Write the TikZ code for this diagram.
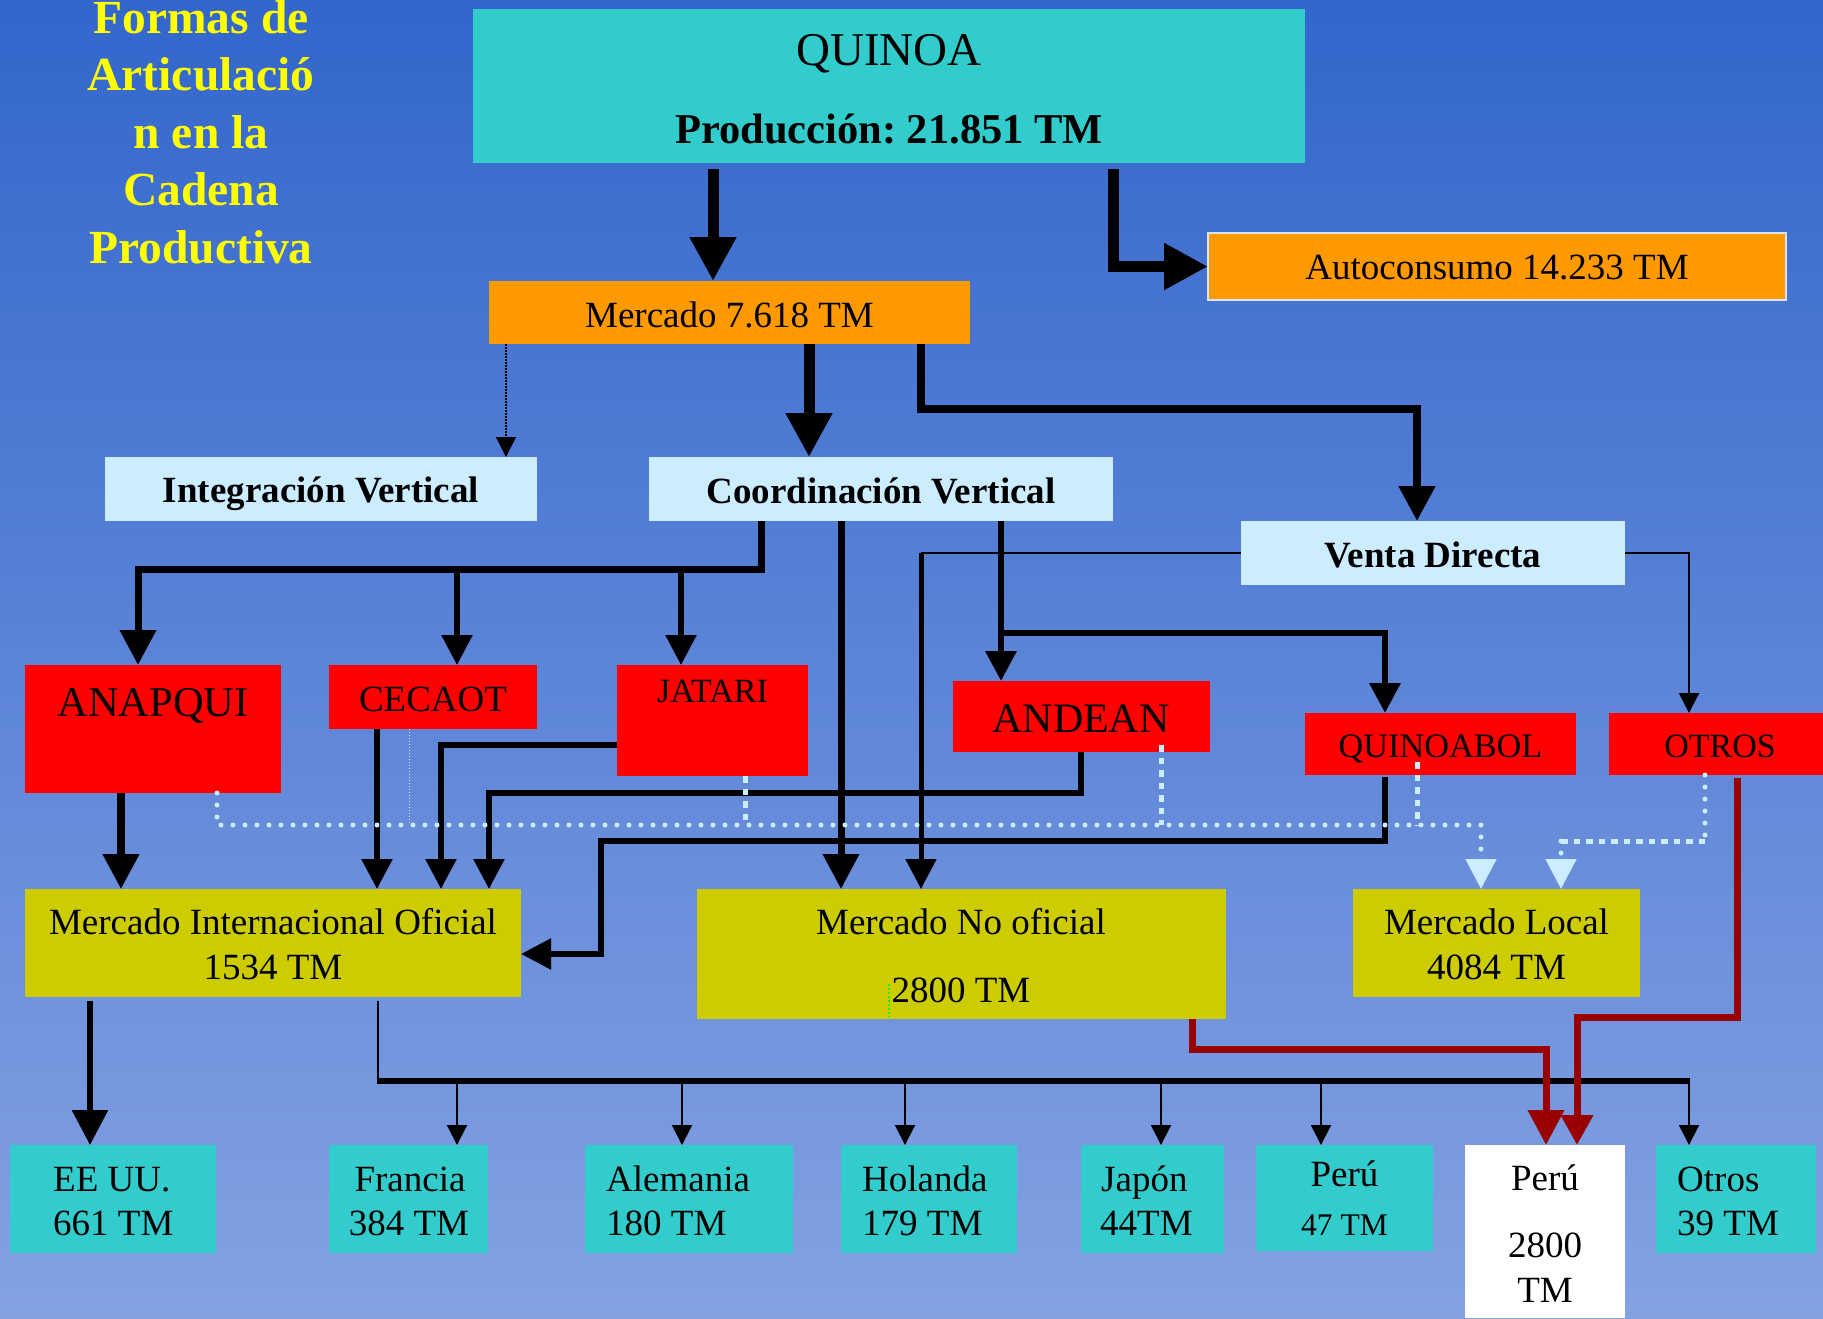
\documentclass[tikz,border=0pt]{standalone}
\usepackage{fontspec}
\setmainfont{Liberation Serif}
\usetikzlibrary{arrows.meta}
\frenchspacing
\definecolor{bgtop}{RGB}{51,102,204}
\definecolor{bgbot}{RGB}{132,162,226}
\definecolor{cteal}{RGB}{51,204,204}
\definecolor{corange}{RGB}{255,153,0}
\definecolor{clight}{RGB}{204,236,255}
\definecolor{cred}{RGB}{255,0,0}
\definecolor{colive}{RGB}{204,204,0}
\definecolor{cdred}{RGB}{153,0,0}
\definecolor{cyell}{RGB}{255,255,0}
\definecolor{cgreen}{RGB}{0,255,0}
\definecolor{cedge}{RGB}{215,228,250}
\begin{document}
\frenchspacing
\begin{tikzpicture}[x=1pt,y=-1pt,
  box/.style={inner sep=0pt, outer sep=0pt, anchor=north west, draw=none},
  lbl/.style={inner sep=0pt, anchor=base, font=\fontsize{37}{44}\selectfont},
  lbll/.style={inner sep=0pt, anchor=base west, font=\fontsize{37}{44}\selectfont},
  blbl/.style={inner sep=0pt, anchor=base, font=\fontsize{37}{44}\selectfont\bfseries},
  ttl/.style={inner sep=0pt, anchor=base, text=cyell, font=\fontsize{47.5}{56}\selectfont\bfseries},
  tipXL/.style={-{Triangle[width=44pt,length=44pt]}},
  tipL/.style={-{Triangle[width=35pt,length=35pt]}},
  tipM/.style={-{Triangle[width=30pt,length=30pt]}},
  tipS/.style={-{Triangle[width=20pt,length=20pt]}},
  dotrnd/.style={draw=clight, line width=5pt, line cap=round, dash pattern=on 0pt off 12pt},
  dashsq/.style={draw=clight, line width=5pt, dash pattern=on 6.5pt off 6pt},
  redln/.style={draw=cdred, line width=7pt},
]
\useasboundingbox (0,0) rectangle (1823,1318);
\shade[top color=bgtop, bottom color=bgbot] (0,0) rectangle (1823,1318);

% title
\foreach \t/\yy [count=\i] in {Formas de/33, Articulació/90, n en la/148, Cadena/205, Productiva/263}
  \node[ttl] (title\i) at (201,\yy) {\t};

% boxes
\node[box, fill=cteal, minimum width=832pt, minimum height=154pt] (quinoa) at (473,9) {};
\node[box, fill=corange, minimum width=481pt, minimum height=63pt] (mercado) at (489,281) {};
\node[box, fill=corange, draw=cedge, line width=2pt, minimum width=578pt, minimum height=67pt] (auto) at (1208,233) {};
\node[box, fill=clight, minimum width=432pt, minimum height=64pt] (integ) at (105,457) {};
\node[box, fill=clight, minimum width=464pt, minimum height=64pt] (coord) at (649,457) {};
\node[box, fill=clight, minimum width=384pt, minimum height=64pt] (venta) at (1241,521) {};
\node[box, fill=cred, minimum width=256pt, minimum height=128pt] (anapqui) at (25,665) {};
\node[box, fill=cred, minimum width=208pt, minimum height=64pt] (cecaot) at (329,665) {};
\node[box, fill=cred, minimum width=191pt, minimum height=111pt] (jatari) at (617,665) {};
\node[box, fill=cred, minimum width=257pt, minimum height=71pt] (andean) at (953,681) {};
\node[box, fill=cred, minimum width=271pt, minimum height=62pt] (quinoabol) at (1305,713) {};
\node[box, fill=cred, minimum width=214pt, minimum height=62pt] (otros) at (1609,713) {};
\node[box, fill=colive, minimum width=496pt, minimum height=108pt] (mio) at (25,889) {};
\node[box, fill=colive, minimum width=529pt, minimum height=130pt] (mno) at (697,889) {};
\node[box, fill=colive, minimum width=287pt, minimum height=108pt] (mlocal) at (1353,889) {};
\node[box, fill=cteal, minimum width=206pt, minimum height=108pt] (eeuu) at (10,1145) {};
\node[box, fill=cteal, minimum width=159pt, minimum height=108pt] (francia) at (329,1145) {};
\node[box, fill=cteal, minimum width=208pt, minimum height=108pt] (alemania) at (585,1145) {};
\node[box, fill=cteal, minimum width=176pt, minimum height=108pt] (holanda) at (841,1145) {};
\node[box, fill=cteal, minimum width=143pt, minimum height=108pt] (japon) at (1081,1145) {};
\node[box, fill=cteal, minimum width=177pt, minimum height=106pt] (perut) at (1256,1145) {};
\node[box, fill=white, minimum width=160pt, minimum height=173pt] (peruw) at (1465,1145) {};
\node[box, fill=cteal, minimum width=160pt, minimum height=108pt] (otrosb) at (1656,1145) {};

% texts
\node[lbl, font=\fontsize{47}{56}\selectfont] (tquinoa) at (889,65) {QUINOA};
\node[blbl, font=\fontsize{42.5}{50}\selectfont\bfseries] (tprod) at (889,143) {Producción: 21.851 TM};
\node[lbl] (tmerc) at (729.5,327) {Mercado 7.618 TM};
\node[lbl] (tauto) at (1497,279) {Autoconsumo 14.233 TM};
\node[blbl] (tinteg) at (321,502) {Integración Vertical};
\node[blbl] (tcoord) at (881,503) {Coordinación Vertical};
\node[blbl] (tventa) at (1433,567) {Venta Directa};
\node[lbl, font=\fontsize{42.5}{50}\selectfont] (tanap) at (153,716) {ANAPQUI};
\node[lbl] (tcec) at (433,711) {CECAOT};
\node[lbl, font=\fontsize{34}{40}\selectfont] (tjat) at (712.5,702) {JATARI};
\node[lbl, font=\fontsize{42}{50}\selectfont] (tand) at (1081,732) {ANDEAN};
\node[lbl, font=\fontsize{34.3}{40}\selectfont] (tqbol) at (1440.5,757) {QUINOABOL};
\node[lbl, font=\fontsize{34}{40}\selectfont] (totros) at (1720,757) {OTROS};
\node[lbl] (tmio1) at (273,934) {Mercado Internacional Oficial};
\node[lbl] (tmio2) at (273,979) {1534 TM};
\node[lbl] (tmno1) at (961,934) {Mercado No oficial};
\node[lbl] (tmno2) at (961,1002) {2800 TM};
\node[lbl] (tml1) at (1496.5,934) {Mercado Local};
\node[lbl] (tml2) at (1496.5,979) {4084 TM};
\node[lbll] (tee1) at (53,1191) {EE UU.};
\node[lbll] (tee2) at (53,1235) {661 TM};
\node[lbl] (tfr1) at (410,1191) {Francia};
\node[lbl] (tfr2) at (409,1235) {384 TM};
\node[lbll] (tal1) at (606,1191) {Alemania};
\node[lbll] (tal2) at (606,1235) {180 TM};
\node[lbll] (tho1) at (862,1191) {Holanda};
\node[lbll] (tho2) at (862,1235) {179 TM};
\node[lbll] (tja1) at (1101,1191) {Japón};
\node[lbll] (tja2) at (1100,1235) {44TM};
\node[lbl] (tpt1) at (1344.5,1186) {Perú};
\node[lbl, font=\fontsize{31.5}{38}\selectfont] (tpt2) at (1344.5,1235) {47 TM};
\node[lbl] (tpw1) at (1545,1190) {Perú};
\node[lbl] (tpw2) at (1545,1257) {2800};
\node[lbl] (tpw3) at (1545,1302) {TM};
\node[lbll] (tot1) at (1677,1191) {Otros};
\node[lbll] (tot2) at (1677,1235) {39 TM};

% black connectors
\draw[line width=11pt, tipXL] ([yshift=-6pt]quinoa.south -| 713,0) -- (mercado.north -| 713,0);
\draw[line width=11pt, tipXL] ([yshift=-6pt]quinoa.south -| 1113,0) |- (auto.west);
\draw[line width=1.5pt, dash pattern=on 1.5pt off 1.5pt, tipS] (mercado.south -| 506,0) -- (integ.north -| 506,0);
\draw[line width=11pt, tipXL] (mercado.south -| 809,0) -- (coord.north -| 809,0);
\draw[line width=8pt, tipL] (mercado.south -| 921,0) |- (1417,409) -- (venta.north -| 1417,0);
\draw[line width=7pt, tipL] (coord.south -| 761,0) |- (138,569) -- (anapqui.north -| 138,0);
\draw[line width=5.5pt, tipM] (457,569) -- (cecaot.north -| 457,0);
\draw[line width=5.5pt, tipM] (681,569) -- (jatari.north -| 681,0);
\draw[line width=7pt, tipL] (coord.south -| 841,0) -- (mno.north -| 841,0);
\draw[line width=6.5pt, tipM] (coord.south -| 1001,0) -- (andean.north -| 1001,0);
\draw[line width=6.5pt, tipM] (1001,633) -| (quinoabol.north -| 1385,0);
\draw[line width=2pt] (venta.west) -- (921,553);
\draw[line width=5pt, tipM] (921,553) -- (mno.north -| 921,0);
\draw[line width=2pt, tipS] (venta.east) -| (otros.north -| 1689,0);
\draw[line width=7.5pt, tipL] (anapqui.south -| 121,0) -- (mio.north -| 121,0);
\draw[line width=5.5pt, tipM] (cecaot.south -| 377,0) -- (mio.north -| 377,0);
\draw[line width=5.5pt, tipM] (jatari.west |- 0,745) -| (mio.north -| 441,0);
\draw[line width=5.5pt, tipM] (andean.south -| 1081,0) |- (489,793) -- (mio.north -| 489,0);
\draw[line width=5.5pt, tipM] ([yshift=-2pt]quinoabol.south -| 1385,0) |- (601,841) |- (mio.east |- 0,954);
\draw[line width=6pt, tipL] ([yshift=-4pt]mio.south -| 90,0) -- (eeuu.north -| 90,0);
\draw[line width=2pt] ([yshift=-4pt]mio.south -| 378,0) -- (378,1081);
\draw[line width=6pt] (377,1081) -- (1690,1081);
\foreach \xx/\nn in {457/francia,682/alemania,905/holanda,1161/japon,1321/perut,1689/otrosb}
  \draw[line width=2pt, tipS] (\xx,1081) -- (\nn.north -| \xx,0);

% light dotted / dashed connectors
\draw[dotrnd, tipM] (anapqui.south -| 217,0) -- (217,825) -- (1481,825) -- (mlocal.north -| 1481,0);
\draw[draw=clight, line width=1pt, dash pattern=on 1pt off 2pt] (cecaot.south -| 409,0) -- (409,825);
\draw[dashsq] (jatari.south -| 745,0) -- (745,825);
\draw[dashsq] ([yshift=7pt]andean.south -| 1161,0) -- (1161,825);
\draw[dashsq] ([yshift=13pt]quinoabol.south -| 1417,0) -- (1417,825);
\draw[dotrnd] (otros.south -| 1705,0) -- (1705,841);
\draw[dashsq] (1705,841) -- (1561,841);
\draw[dotrnd, tipM] (1561,841) -- (mlocal.north -| 1561,0);
\draw[draw=cgreen, line width=1.5pt, dash pattern=on 2pt off 2pt] (889,984) -- ([yshift=2pt]mno.south -| 889,0);

% red connectors
\draw[redln, tipL] (mno.south -| 1192,0) |- (1546,1049) -- (peruw.north -| 1546,0);
\draw[redln, -{Triangle[width=31pt,length=30pt]}] ([yshift=-3pt]otros.south -| 1737,0) |- (1577,1017) -- (peruw.north -| 1577,0);
\end{tikzpicture}
\end{document}
